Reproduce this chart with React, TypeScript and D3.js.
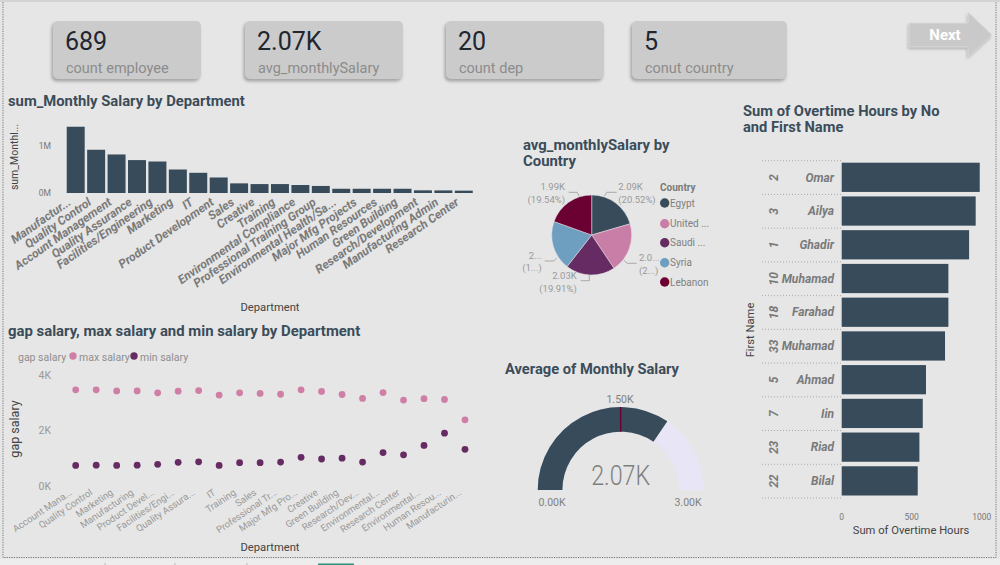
import * as React from 'react';
import * as d3 from 'd3';

const FONT = "Roboto, 'Noto Sans', sans-serif";
const BAR = '#374B5B';
const PINK = '#CF7FA6';
const PLUM = '#672B63';

const kpiValues = ['689', '2.07K', '20', '5'];
const kpiLabels = ['count employee', 'avg_monthlySalary', 'count dep', 'conut country'];

const salaryDepts = ['Manufactur...', 'Quality Control', 'Account Management', 'Quality Assurance', 'Facilities/Engineering', 'Marketing', 'IT', 'Product Development', 'Sales', 'Creative', 'Training', 'Environmental Compliance', 'Professional Training Group', 'Environmental Health/Sa...', 'Major Mfg Projects', 'Human Resources', 'Green Building', 'Research/Development', 'Manufacturing Admin', 'Research Center'];
const salarySums = [1.41, 0.92, 0.82, 0.7, 0.67, 0.5, 0.43, 0.33, 0.205, 0.19, 0.19, 0.17, 0.15, 0.09, 0.09, 0.09, 0.09, 0.057, 0.055, 0.05];

const gapDepts = ['Account Mana...', 'Quality Control', 'Marketing', 'Manufacturing', 'Product Devel...', 'Facilities/Engi...', 'Quality Assura...', 'IT', 'Training', 'Sales', 'Professional Tr...', 'Major Mfg Pro...', 'Creative', 'Green Building', 'Research/Dev...', 'Environmental...', 'Research Center', 'Environmental...', 'Human Resou...', 'Manufacturin...'];
const maxSalary = [3.45, 3.45, 3.41, 3.41, 3.34, 3.4, 3.42, 3.26, 3.34, 3.32, 3.29, 3.45, 3.39, 3.28, 3.14, 3.35, 3.08, 3.13, 3.1, 2.37];
const minSalary = [0.73, 0.74, 0.73, 0.74, 0.77, 0.84, 0.86, 0.73, 0.83, 0.83, 0.85, 1.02, 0.96, 0.99, 0.85, 1.19, 1.11, 1.45, 1.89, 1.31];

const countries = ['Egypt', 'United ...', 'Saudi ...', 'Syria', 'Lebanon'];
const countryAvg = [2.09, 2.05, 2.03, 2.03, 1.99];
const countryColors = [BAR, '#C97EA8', PLUM, '#6E9EC0', '#6B0032'];
const pieLabels = [['2.09K', '(20.52%)'], ['2.0...', '(2...)'], ['2.03K', '(19.91%)'], ['2...', '(1...)'], ['1.99K', '(19.54%)']];

const overtimeNo = ['2', '3', '1', '10', '18', '33', '5', '7', '23', '22'];
const overtimeNames = ['Omar', 'Ailya', 'Ghadir', 'Muhamad', 'Farahad', 'Muhamad', 'Ahmad', 'Iin', 'Riad', 'Bilal'];
const overtimeHours = [986, 957, 910, 762, 762, 738, 602, 579, 555, 543];

const gaugeValue = 2.07;
const gaugeTarget = 1.5;
const gaugeMax = 3;

// pie label placement, relative to the pie centre
const pieLeaders = [
  { d: 'M12.7,-39L15,-42.7L25,-42.7', x: 26.6, y: -45, anchor: 'start' },
  { d: 'M32,25L35.5,28.3L45,28.3', x: 47.3, y: 26.3, anchor: 'start' },
  { d: 'M-2.4,40L-2.4,45.7L-11,45.7', x: -15, y: 44, anchor: 'end' },
  { d: 'M-35,23L-38,26L-47,26', x: -50, y: 23.7, anchor: 'end' },
  { d: 'M-12.7,-39L-14.5,-42.7L-23,-42.7', x: -26.7, y: -45, anchor: 'end' },
];

const titleStyle = { fontFamily: FONT, fontWeight: 700, fontSize: 14.7, fill: '#3B4C5A' };
const axisTitle = { fontFamily: FONT, fontSize: 11.2, fill: '#444' };

const App: React.FC = () => {
  const x1 = d3.scaleBand().domain(salaryDepts).range([65.5, 474]).paddingInner(0.12).paddingOuter(0.06);
  const y1 = d3.scaleLinear().domain([0, 1]).range([193, 146]);

  const x2 = d3.scalePoint().domain(d3.range(gapDepts.length).map(String)).range([75.7, 465]);
  const y2 = d3.scaleLinear().domain([0, 4]).range([485.7, 374.5]);

  const pie = d3.pie<number>().sort(null).value((d) => d);
  const pieArc = d3.arc<d3.PieArcDatum<number>>().innerRadius(0).outerRadius(40);

  const gaugeAngle = d3.scaleLinear().domain([0, gaugeMax]).range([-Math.PI / 2, Math.PI / 2]);
  const gaugeArc = d3.arc().innerRadius(58.3).outerRadius(83);

  const y3 = d3.scaleBand().domain(d3.range(overtimeNames.length).map(String)).range([160.7, 498]);
  const x3 = d3.scaleLinear().domain([0, 1000]).range([841.7, 981.7]);

  const cards = [[53, 148], [245, 158], [446, 158], [632, 155]];
  const arrow = 'M909,23L968,23L968,12L992,35L968,57L968,47L909,47Z';

  return (
    <svg width={1000} height={565} viewBox="0 0 1000 565" style={{ position: 'absolute', left: 0, top: 0 }}>
      <defs>
        <filter id="soft" x="-10%" y="-20%" width="120%" height="140%">
          <feGaussianBlur stdDeviation="1.6" />
        </filter>
      </defs>
      <rect width={1000} height={565} fill="#E6E6E6" />
      <rect width={1000} height={2} fill="#D4D4D4" />
      <rect y={559} width={1000} height={6} fill="#EDEDED" />
      <rect x={318} y={563.5} width={36} height={1.5} fill="#2F8F7A" />
      {[105, 175, 247].map((x) => <line key={x} x1={x} x2={x} y1={563} y2={565} stroke="#BBB" />)}
      <path d="M3,2V557.5H996V2" fill="none" stroke="#777" strokeDasharray="1.2 1.2" strokeWidth={1} />

      {/* kpi cards */}
      {cards.map(([x, w], i) => (
        <g key={i}>
          <rect x={x - 1.5} y={23} width={w} height={58.5} rx={5} fill="#8A8A8A" opacity={0.7} filter="url(#soft)" />
          <rect x={x} y={21} width={w} height={58} rx={5} fill="#CBCBCB" />
          <text x={x + 12} y={50} fontFamily={FONT} fontSize={25} fontWeight={400} fill="#1F2630">{kpiValues[i]}</text>
          <text x={x + 13} y={73} fontFamily={FONT} fontSize={14.5} fill="#8C8C8C">{kpiLabels[i]}</text>
        </g>
      ))}

      {/* next arrow */}
      <path d={arrow} transform="translate(-1,2)" fill="#8A8A8A" opacity={0.6} filter="url(#soft)" />
      <path d={arrow} fill="#C9C9C9" stroke="#DADADA" strokeWidth={1} />
      <text x={945} y={40} textAnchor="middle" fontFamily={FONT} fontWeight={700} fontSize={15} fill="#FFF">Next</text>

      {/* sum of salary by department */}
      <text x={8} y={106} {...titleStyle} fontSize={14.8}>sum_Monthly Salary by Department</text>
      <text transform="translate(18,157) rotate(-90)" textAnchor="middle" {...axisTitle} fontSize={10.5}>sum_Monthl...</text>
      {[0, 1].map((t) => (
        <text key={t} x={51} y={y1(t) + 3} textAnchor="end" fontFamily={FONT} fontSize={8.5} fill="#777">{t}M</text>
      ))}
      {salaryDepts.map((d, i) => (
        <rect key={d} x={x1(d)} y={y1(salarySums[i])} width={x1.bandwidth()} height={y1(0) - y1(salarySums[i])} fill={BAR} />
      ))}
      {salaryDepts.map((d) => (
        <text key={d} transform={`translate(${x1(d)! + x1.bandwidth() / 2 - 4},204) rotate(-35)`} textAnchor="end"
          fontFamily={FONT} fontSize={12} fontWeight={700} fontStyle="italic" fill="#7A7A7A">{d}</text>
      ))}
      <text x={270} y={311} textAnchor="middle" {...axisTitle}>Department</text>

      {/* gap / max / min salary */}
      <text x={8} y={336} {...titleStyle} fontSize={14.9}>gap salary, max salary and min salary by Department</text>
      <g fontFamily={FONT} fontSize={10.5} fill="#8E8E8E">
        <text x={18} y={361}>gap salary</text>
        <circle cx={73} cy={356} r={3.7} fill={PINK} />
        <text x={79} y={361}>max salary</text>
        <circle cx={134} cy={356} r={3.7} fill={PLUM} />
        <text x={140} y={361}>min salary</text>
      </g>
      <text transform="translate(19,429) rotate(-90)" textAnchor="middle" {...axisTitle} fontSize={12.5}>gap salary</text>
      {[0, 2, 4].map((t) => (
        <text key={t} x={51} y={y2(t) + 4} textAnchor="end" fontFamily={FONT} fontSize={10.5} fill="#999">{t}K</text>
      ))}
      {gapDepts.map((d, i) => (
        <g key={i}>
          <circle cx={x2(String(i))} cy={y2(maxSalary[i])} r={3.4} fill={PINK} />
          <circle cx={x2(String(i))} cy={y2(minSalary[i])} r={3.4} fill={PLUM} />
          <text transform={`translate(${x2(String(i))! - 3},494) rotate(-34)`} textAnchor="end"
            fontFamily={FONT} fontSize={9.5} fill="#999">{d}</text>
        </g>
      ))}
      <text x={270} y={551} textAnchor="middle" {...axisTitle}>Department</text>

      {/* pie */}
      <text x={523} y={150} {...titleStyle} fontSize={14.9}>avg_monthlySalary by</text>
      <text x={523} y={166} {...titleStyle} fontSize={14.9}>Country</text>
      <g transform="translate(591.7,235)">
        {pie(countryAvg).map((s, i) => (
          <path key={i} d={pieArc(s)!} fill={countryColors[i]} stroke="#E6E6E6" strokeWidth={0.5} />
        ))}
        {pieLeaders.map((l, i) => (
          <g key={i}>
            <path d={l.d} fill="none" stroke="#999" strokeWidth={0.8} />
            <text textAnchor={l.anchor} fontFamily={FONT} fontSize={9.5} fill="#999">
              <tspan x={l.x} y={l.y}>{pieLabels[i][0]}</tspan>
              <tspan x={l.x} dy={12.5}>{pieLabels[i][1]}</tspan>
            </text>
          </g>
        ))}
      </g>
      <text x={660} y={191} fontFamily={FONT} fontWeight={700} fontSize={10} fill="#7A7A7A">Country</text>
      {countries.map((c, i) => {
        const y = [203, 223.7, 242.7, 262.7, 282][i];
        return (
          <g key={c}>
            <circle cx={664.7} cy={y} r={4.7} fill={countryColors[i]} />
            <text x={670} y={y + 3.5} fontFamily={FONT} fontSize={10} fill="#808080">{c}</text>
          </g>
        );
      })}

      {/* gauge */}
      <text x={505} y={374} {...titleStyle}>Average of Monthly Salary</text>
      <g transform="translate(620.7,490)">
        <path d={gaugeArc({ startAngle: gaugeAngle(0), endAngle: gaugeAngle(gaugeMax), innerRadius: 58.3, outerRadius: 83 })!} fill="#E8E6F6" />
        <path d={gaugeArc({ startAngle: gaugeAngle(0), endAngle: gaugeAngle(gaugeValue), innerRadius: 58.3, outerRadius: 83 })!} fill={BAR} />
        <line
          x1={58.3 * Math.sin(gaugeAngle(gaugeTarget))} y1={-58.3 * Math.cos(gaugeAngle(gaugeTarget))}
          x2={83 * Math.sin(gaugeAngle(gaugeTarget))} y2={-83 * Math.cos(gaugeAngle(gaugeTarget))}
          stroke="#6B0032" strokeWidth={1.5} />
        <text y={-5} textAnchor="middle" fontFamily={FONT} fontSize={27} fontWeight={300} fill="#7F7F7F" textLength={59} lengthAdjust="spacingAndGlyphs">2.07K</text>
      </g>
      <g fontFamily={FONT} fontSize={10.5} fill="#808080" textAnchor="middle">
        <text x={552} y={506}>0.00K</text>
        <text x={620} y={403}>1.50K</text>
        <text x={688} y={506}>3.00K</text>
      </g>

      {/* overtime */}
      <text x={743} y={116} {...titleStyle}>Sum of Overtime Hours by No</text>
      <text x={743} y={132} {...titleStyle}>and First Name</text>
      <text transform="translate(754,330) rotate(-90)" textAnchor="middle" {...axisTitle}>First Name</text>
      {overtimeHours.map((h, i) => {
        const top = y3(String(i))!;
        const mid = top + y3.bandwidth() / 2;
        return (
          <g key={i}>
            <line x1={762} x2={841} y1={top} y2={top} stroke="#AAA" strokeDasharray="1 2" />
            <text transform={`translate(778,${mid}) rotate(-90)`} textAnchor="middle" fontFamily={FONT} fontSize={12} fontWeight={700} fontStyle="italic" fill="#7A7A7A">{overtimeNo[i]}</text>
            <text x={834} y={mid + 4} textAnchor="end" fontFamily={FONT} fontSize={12} fontWeight={700} fontStyle="italic" fill="#7A7A7A">{overtimeNames[i]}</text>
            <rect x={x3(0)} y={top + 2} width={x3(h) - x3(0)} height={y3.bandwidth() - 4.5} fill={BAR} />
          </g>
        );
      })}
      <line x1={762} x2={841} y1={498} y2={498} stroke="#AAA" strokeDasharray="1 2" />
      {x3.ticks(2).map((t) => (
        <text key={t} x={x3(t)} y={520} textAnchor="middle" fontFamily={FONT} fontSize={8.5} fill="#777">{t}</text>
      ))}
      <text x={911} y={534} textAnchor="middle" {...axisTitle}>Sum of Overtime Hours</text>
    </svg>
  );
};

export default App;
